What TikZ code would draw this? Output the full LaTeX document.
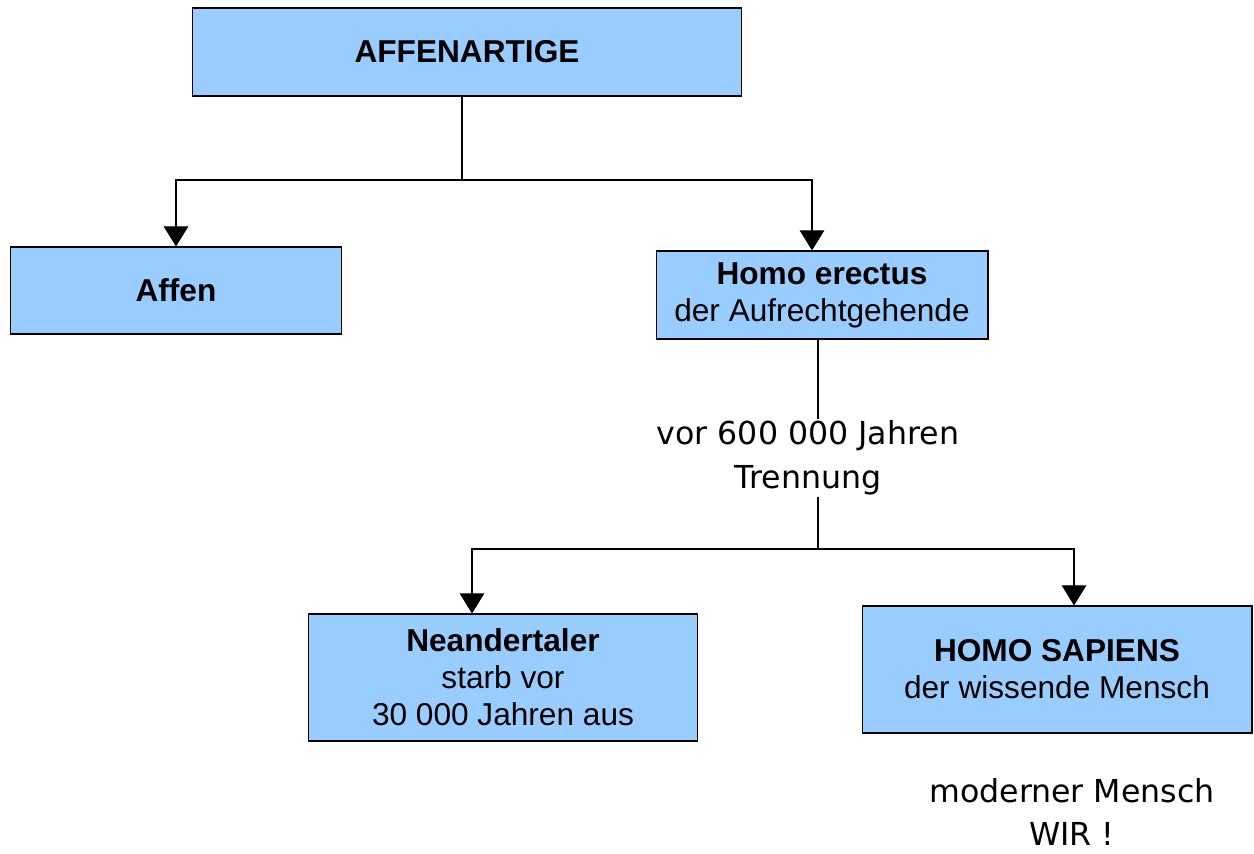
\documentclass[tikz,border=0pt]{standalone}
\usepackage{fontspec}
\setmainfont{Liberation Sans}
\newfontfamily\handfont{DejaVu Sans}
\usetikzlibrary{arrows.meta,calc}

\definecolor{boxblue}{HTML}{99CCFF}
\tikzset{
  box/.style={draw=black, fill=boxblue, line width=0.6pt, align=center,
    inner sep=0pt, font=\fontsize{18}{21}\selectfont},
  hand/.style={align=center, inner sep=1pt, font=\handfont\fontsize{18}{25}\selectfont},
  link/.style={line width=0.6pt},
  arr/.style={link, -{Triangle[width=14pt,length=11.5pt]}}
}

\begin{document}
\begin{tikzpicture}[x=0.02cm,y=-0.02cm]
  \useasboundingbox (0,0) rectangle (1254,853);

  % boxes
  \node[box, minimum width=11cm, minimum height=1.76cm] (top) at (467,52) {\textbf{AFFENARTIGE}};
  \node[box, minimum width=6.64cm, minimum height=1.74cm] (affen) at (176,290.5) {\textbf{Affen}};
  \node[box, minimum width=6.64cm, minimum height=1.76cm] (erectus) at (822,295) {\textbf{Homo erectus}\\der Aufrechtgehende};
  \node[box, minimum width=7.8cm, minimum height=2.54cm] (neander) at (503,677.5) {\textbf{Neandertaler}\\starb vor\\30 000 Jahren aus};
  \node[box, minimum width=7.8cm, minimum height=2.54cm] (sapiens) at (1057,669.5) {\textbf{HOMO SAPIENS}\\der wissende Mensch};

  % free text
  \node[hand] (split) at (808,458) {vor 600 000 Jahren\\Trennung};
  \node[hand] (wir) at (1072,812) {moderner Mensch\\WIR !};

  % first branching
  \coordinate (j1) at (462,180);
  \draw[link] (top.south -| j1) -- (j1);
  \draw[arr] (j1) -| (affen.north);
  \draw[arr] (j1) -| ($(erectus.north)+(-10,0)$);

  % second branching
  \coordinate (j2) at (818,549);
  \draw[link] (erectus.south -| j2) -- (split.north -| j2);
  \draw[link] (split.south -| j2) -- (j2);
  \draw[arr] (j2) -| ($(neander.north)+(-31,0)$);
  \draw[arr] (j2) -| ($(sapiens.north)+(17,0)$);
\end{tikzpicture}
\end{document}
